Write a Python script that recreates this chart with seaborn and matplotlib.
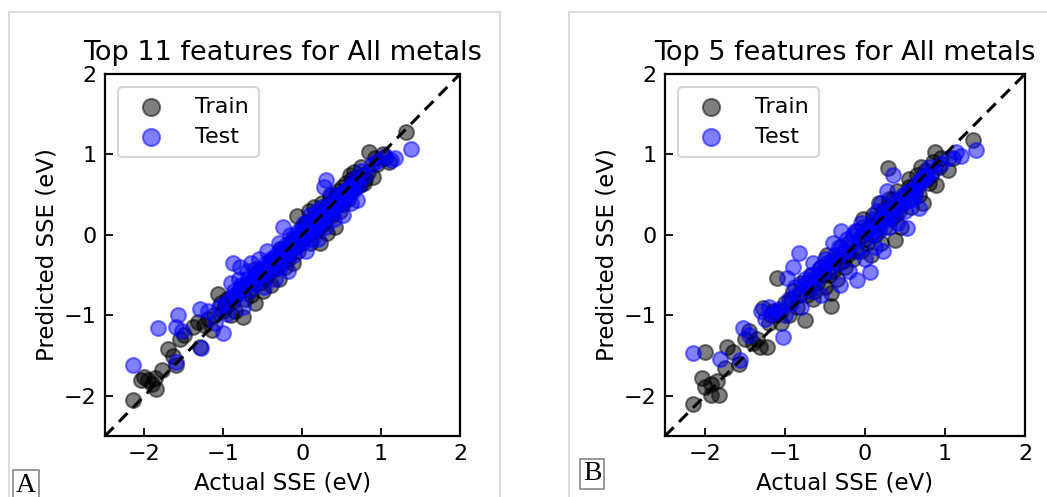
import matplotlib
matplotlib.use("Agg")
import matplotlib.pyplot as plt
import seaborn as sns
import pandas as pd
from matplotlib.patches import Rectangle

panel_titles = ["Top 11 features for All metals", "Top 5 features for All metals"]
panel_tags = ["A", "B"]
series_names = ["Train", "Test"]
axis_ticks = [-2, -1, 0, 1, 2]
axis_limits = (-2.5, 2.0)
x_label = "Actual SSE (eV)"
y_label = "Predicted SSE (eV)"

trainA_x = [-2.15, -2.05, -2.0, -1.95, -1.9, -1.87, -1.85, -1.78, -1.7, -1.64, -1.6, -1.55, -1.5, -1.38, -1.32,
            -1.3, -1.25, -1.2, -1.15, -1.07, -1.03, -0.98, -0.96, -0.92, -0.9, -0.85, -0.8, -0.75, -0.72, -0.7,
            -0.65, -0.62, -0.6, -0.55, -0.52, -0.5, -0.45, -0.42, -0.4, -0.35, -0.32, -0.3, -0.25, -0.22, -0.2,
            -0.15, -0.12, -0.1, -0.07, -0.05, 0.0, 0.02, 0.05, 0.08, 0.1, 0.12, 0.15, 0.18, 0.2, 0.22,
            0.25, 0.28, 0.3, 0.32, 0.35, 0.38, 0.4, 0.42, 0.45, 0.48, 0.5, 0.52, 0.55, 0.58, 0.6,
            0.62, 0.65, 0.68, 0.7, 0.75, 0.78, 0.8, 0.85, 0.9, 0.92, 0.95, 1.02, 1.05, 1.1, 1.32,
            -1.12, -1.0, -0.88, -0.78, -0.68, -0.58, -0.48, -0.38, -0.28, -0.18, -0.08, 0.03, 0.13,
            0.23, 0.33, 0.43, 0.53, 0.63, 0.73, 0.83, -0.95, -0.6, -0.3, 0.07, 0.37, 0.66]
trainA_y = [-2.05, -1.8, -1.77, -1.8, -1.85, -1.78, -1.92, -1.68, -1.42, -1.51, -1.62, -1.3, -1.25, -1.14, -1.08,
            -1.39, -1.12, -1.05, -1.18, -0.73, -0.85, -0.9, -0.87, -0.78, -1.0, -0.95, -0.7, -1.02, -0.8, -0.62,
            -0.75, -0.55, -0.85, -0.6, -0.45, -0.7, -0.5, -0.35, -0.62, -0.42, -0.3, -0.55, -0.2, -0.4, -0.28,
            -0.1, -0.35, -0.05, 0.23, -0.2, 0.1, -0.05, 0.15, 0.3, -0.1, 0.2, 0.35, 0.05, 0.25, -0.1,
            0.4, 0.15, 0.3, 0.02, 0.5, 0.25, 0.45, 0.1, 0.55, 0.3, 0.6, 0.38, 0.65, 0.45, 0.75,
            0.55, 0.78, 0.6, 0.72, 0.85, 0.65, 0.7, 1.03, 0.72, 0.95, 0.88, 1.01, 0.95, 0.9, 1.28,
            -1.0, -0.95, -0.82, -0.65, -0.68, -0.48, -0.55, -0.42, -0.18, -0.3, -0.15, 0.0, 0.05,
            0.1, 0.38, 0.5, 0.45, 0.7, 0.62, 0.78, -0.8, -0.42, -0.38, 0.05, 0.28, 0.68]

testA_x = [-2.15, -1.83, -1.6, -1.57, -1.53, -1.6, -1.3, -1.28, -1.2, -1.1, -1.0, -0.95, -0.9, -0.88, -0.85,
           -0.8, -0.79, -0.75, -0.7, -0.68, -0.65, -0.6, -0.55, -0.52, -0.48, -0.45, -0.42, -0.38, -0.35, -0.3,
           -0.28, -0.24, -0.2, -0.18, -0.15, -0.1, -0.05, 0.0, 0.02, 0.05, 0.08, 0.1, 0.12, 0.15, 0.18,
           0.2, 0.22, 0.25, 0.28, 0.3, 0.3, 0.35, 0.38, 0.4, 0.45, 0.5, 0.52, 0.55, 0.6, 0.62,
           0.65, 0.7, 0.72, 0.75, 0.8, 0.88, 0.95, 1.05, 1.12, 1.17, 1.38,
           -1.05, -0.98, -0.92, -0.86, -0.82, -0.77, -0.73, -0.69, -0.64, -0.6, -0.57, -0.53, -0.5, -0.46,
           -0.43, -0.4, -0.37, -0.33, -0.3, -0.27, -0.23, -0.2, -0.17, -0.13, -0.1, -0.07, -0.03, 0.0,
           0.03, 0.07, 0.1, 0.13, 0.17, 0.2, 0.23, 0.27, 0.3, 0.33, 0.37, 0.4, 0.43, 0.47, 0.5, 0.53,
           0.57, 0.6, 0.64, 0.68]
testA_y = [-1.62, -1.16, -1.14, -1.0, -1.2, -1.58, -0.92, -1.4, -0.95, -1.1, -1.22, -0.98, -0.6, -0.35, -0.75,
           -0.55, -0.4, -0.9, -0.45, -0.7, -0.35, -0.6, -0.3, -0.5, -0.65, -0.2, -0.45, -0.3, -0.55, -0.1,
           -0.4, 0.1, -0.2, -0.45, 0.0, -0.25, 0.05, -0.1, 0.15, -0.2, 0.05, 0.25, -0.05, 0.1, 0.3,
           -0.05, 0.2, 0.35, 0.6, 0.68, 0.1, 0.3, 0.5, 0.2, 0.4, 0.5, 0.25, 0.55, 0.6, 0.4,
           0.7, 0.43, 0.62, 0.8, 0.75, 0.88, 0.92, 0.98, 0.93, 0.95, 1.07,
           -0.9, -0.85, -0.8, -0.7, -0.72, -0.62, -0.65, -0.55, -0.58, -0.48, -0.5, -0.42, -0.45, -0.35,
           -0.4, -0.3, -0.38, -0.25, -0.32, -0.18, -0.28, -0.12, -0.22, -0.05, -0.15, 0.0, -0.08, 0.05,
           0.0, 0.12, 0.05, 0.18, 0.1, 0.22, 0.15, 0.3, 0.25, 0.35, 0.3, 0.42, 0.35, 0.48, 0.42, 0.55,
           0.48, 0.6, 0.55, 0.65]

trainB_x = [-2.15, -2.04, -2.0, -1.92, -1.92, -1.83, -1.85, -2.0, -1.75, -1.73, -1.65, -1.58, -1.5, -1.45, -1.4,
            -1.31, -1.23, -1.27, -1.2, -1.15, -1.1, -1.05, -1.0, -0.95, -0.9, -0.85, -0.8, -0.75, -0.72, -0.68,
            -0.65, -0.6, -0.55, -0.5, -0.48, -0.45, -0.42, -0.42, -0.38, -0.35, -0.3, -0.25, -0.2, -0.15, -0.1,
            -0.05, -0.02, 0.0, 0.05, 0.08, 0.1, 0.12, 0.15, 0.18, 0.2, 0.22, 0.25, 0.29, 0.3, 0.33,
            0.37, 0.4, 0.42, 0.45, 0.5, 0.55, 0.58, 0.6, 0.65, 0.68, 0.7, 0.72, 0.75, 0.8, 0.85,
            0.87, 0.89, 0.92, 0.95, 1.04, 1.1, 1.35,
            -1.35, -1.18, -1.05, -0.92, -0.82, -0.7, -0.62, -0.52, -0.4, -0.32, -0.22, -0.12, -0.02,
            0.08, 0.18, 0.28, 0.38, 0.48, 0.62, 0.78, 0.82, -0.58, -0.28, 0.02, 0.35, 0.55]
trainB_y = [-2.1, -1.78, -1.89, -1.85, -1.99, -1.99, -1.82, -1.45, -1.66, -1.39, -1.45, -1.6, -1.3, -1.2, -1.35,
            -1.39, -1.39, -0.91, -1.1, -0.95, -0.54, -1.1, -0.85, -1.0, -0.7, -0.9, -0.6, -1.06, -0.75, -0.5,
            -0.8, -0.6, -0.4, -0.65, -0.25, -0.5, -0.89, -0.72, -0.3, -0.55, -0.15, -0.4, -0.1, -0.3, 0.05,
            -0.2, 0.2, -0.05, 0.1, -0.25, 0.25, 0.0, 0.15, 0.4, -0.1, 0.3, 0.1, 0.83, 0.45, 0.2,
            -0.06, 0.55, 0.3, 0.1, 0.5, 0.7, 0.35, 0.6, 0.75, 0.5, 0.85, 0.4, 0.8, 0.65, 0.9,
            1.03, 0.62, 0.85, 0.95, 0.81, 0.95, 1.18,
            -1.3, -1.0, -0.95, -0.8, -0.75, -0.62, -0.7, -0.5, -0.45, -0.35, -0.25, -0.2, 0.0,
            0.12, 0.2, 0.35, 0.25, 0.4, 0.55, 0.7, 0.75, -0.5, -0.32, -0.1, 0.45, 0.6]

testB_x = [-2.15, -1.81, -1.52, -1.56, -1.45, -1.3, -1.25, -1.2, -1.1, -1.02, -1.0, -0.98, -0.95, -0.9, -0.88,
           -0.83, -0.8, -0.75, -0.7, -0.65, -0.6, -0.55, -0.5, -0.45, -0.4, -0.35, -0.31, -0.3, -0.25, -0.2,
           -0.15, -0.1, -0.1, -0.05, 0.0, 0.05, 0.06, 0.1, 0.12, 0.15, 0.18, 0.2, 0.22, 0.25, 0.28,
           0.3, 0.35, 0.35, 0.4, 0.45, 0.5, 0.52, 0.55, 0.6, 0.65, 0.68, 0.7, 0.75, 0.8, 0.85,
           0.95, 1.05, 1.14, 1.2, 1.39,
           -1.15, -1.08, -0.92, -0.85, -0.78, -0.72, -0.68, -0.62, -0.58, -0.52, -0.47, -0.42, -0.38,
           -0.33, -0.27, -0.23, -0.18, -0.13, -0.08, -0.03, 0.02, 0.08, 0.13, 0.17, 0.22, 0.27, 0.32,
           0.38, 0.42, 0.48, 0.53, 0.58, 0.62, 0.67, 0.72, 0.78]
testB_y = [-1.47, -1.54, -1.16, -1.56, -1.25, -0.95, -1.05, -0.9, -0.95, -1.27, -1.0, -0.54, -0.8, -0.4, -0.65,
           -0.23, -0.9, -0.55, -0.7, -0.35, -0.55, -0.75, -0.3, -0.45, -0.1, -0.35, -0.62, 0.05, -0.2, -0.45,
           0.0, -0.56, -0.2, 0.15, -0.3, 0.05, -0.46, 0.2, -0.15, 0.3, 0.05, 0.4, -0.2, 0.2, 0.55,
           0.1, 0.74, 0.35, 0.15, 0.45, 0.3, 0.08, 0.55, 0.45, 0.65, 0.33, 0.7, 0.75, 0.85, 0.8,
           0.88, 0.95, 1.03, 0.98, 1.06,
           -0.98, -0.92, -0.85, -0.75, -0.62, -0.6, -0.5, -0.52, -0.42, -0.45, -0.35, -0.32, -0.25,
           -0.15, -0.22, -0.05, -0.12, 0.05, -0.05, 0.1, 0.05, 0.0, 0.15, 0.1, 0.2, 0.3, 0.25,
           0.4, 0.35, 0.5, 0.42, 0.55, 0.5, 0.62, 0.68, 0.72]

sns.set_style("white")
plt.rcParams["font.family"] = ["DejaVu Sans"]
plt.rcParams["text.color"] = "black"
plt.rcParams["axes.labelcolor"] = "black"

panels = [
    (trainA_x, trainA_y, testA_x, testA_y),
    (trainB_x, trainB_y, testB_x, testB_y),
]

W, H = 1047, 497
fig = plt.figure(figsize=(W / 100, H / 100), dpi=100)

axes_px = [(105, 74, 355, 362), (665, 74, 360, 362)]  # left, top, width, height
frames_px = [(9, 12, 491), (569, 12, 520)]
tag_px = [(26, 485), (592, 474)]

series_colors = ["black", "blue"]

for i, (trx, tr_y, tex, tey) in enumerate(panels):
    l, t, w, h = axes_px[i]
    ax = fig.add_axes([l / W, 1 - (t + h) / H, w / W, h / H])
    df = pd.concat([
        pd.DataFrame({"actual": trx, "pred": tr_y, "set": series_names[0]}),
        pd.DataFrame({"actual": tex, "pred": tey, "set": series_names[1]}),
    ])
    for name, col in zip(series_names, series_colors):
        sub = df[df["set"] == name]
        sns.scatterplot(data=sub, x="actual", y="pred", ax=ax, color=col, alpha=0.5,
                        s=115, edgecolor=col, linewidth=1.5, label=name)
    ax.axline((0, 0), slope=1, color="black", linestyle="--", linewidth=2.2, dashes=(4, 2.5), zorder=5)
    ax.set_xlim(*axis_limits)
    ax.set_ylim(*axis_limits)
    ax.set_xticks(axis_ticks)
    ax.set_yticks(axis_ticks)
    ax.tick_params(direction="in", length=6, width=1.3, labelsize=16, colors="black",
                   bottom=True, left=True, top=False, right=False, pad=6)
    for sp in ax.spines.values():
        sp.set_color("black")
        sp.set_linewidth(1.6)
    ax.set_xlabel(x_label, fontsize=16.5, labelpad=5, color="black")
    ax.set_ylabel(y_label, fontsize=16.5, labelpad=4, color="black")
    ax.set_title(panel_titles[i], fontsize=19.5, pad=10, color="black")
    leg = ax.legend(loc="upper left", fontsize=16, handletextpad=1.0, borderaxespad=0.6,
                    frameon=True, fancybox=True, borderpad=0.45, labelspacing=0.45,
                    markerscale=1.15, handlelength=2.0)
    leg.get_frame().set_edgecolor("#cccccc")
    leg.get_frame().set_linewidth(1.5)
    for txt in leg.get_texts():
        txt.set_color("black")

    fx, fy, fw = frames_px[i]
    fig.patches.append(Rectangle((fx / W, -0.05), fw / W, 1 - fy / H + 0.05,
                                 transform=fig.transFigure, fill=False,
                                 edgecolor="#dcdcdc", linewidth=1.5))
    tx, ty = tag_px[i]
    fig.text(tx / W, 1 - ty / H, panel_tags[i], family="Liberation Serif", fontsize=20,
             ha="center", va="center", color="black",
             bbox=dict(boxstyle="square,pad=0.1", facecolor="white", edgecolor="#888888", linewidth=1.2))

fig.savefig("out.png", dpi=100)
